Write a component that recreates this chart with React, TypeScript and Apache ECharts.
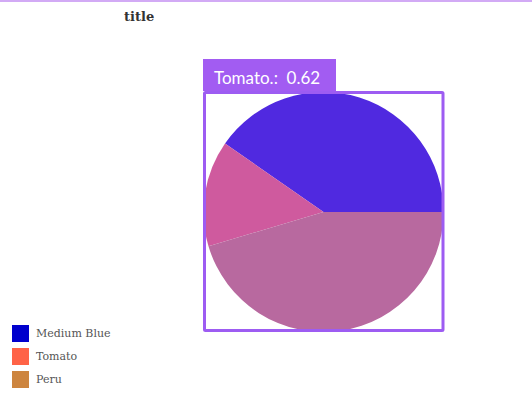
import React, { useEffect, useRef } from "react";
import * as echarts from "echarts";

const categories = ["Medium Blue", "Tomato", "Peru"];
const values = [1.75, 0.62, 1.97];
const legendColors = ["#0000CD", "#FF6347", "#CD853F"];
const sliceColors = ["#5029E0", "#CF5A9E", "#B8699F"];
const highlightLabel = "Tomato.:  0.62";
const titleText = "title";

export default function App() {
  const ref = useRef<HTMLDivElement>(null);
  useEffect(() => {
    document.body.style.margin = "0";
    const chart = echarts.init(ref.current!, null, { renderer: "svg" });
    chart.setOption({
      animation: false,
      backgroundColor: "#ffffff",
      title: {
        text: titleText,
        left: 119,
        top: 5,
        textStyle: { fontFamily: "DejaVu Serif", fontWeight: "bold", fontSize: 13, color: "#333" },
      },
      legend: {
        orient: "vertical",
        left: 7,
        top: 320,
        itemWidth: 17,
        itemHeight: 17,
        itemGap: 6,
        icon: "rect",
        textStyle: { fontFamily: "DejaVu Serif", fontSize: 11, color: "#555", padding: [0, 0, 0, 2] },
        data: categories.map((c, i) => ({ name: c, itemStyle: { color: legendColors[i] } })),
      },
      graphic: [
        { type: "rect", left: 0, top: 0, shape: { width: 532, height: 2 }, style: { fill: "#D2AAF5" } },
        {
          type: "rect",
          shape: { x: 204.5, y: 92.5, width: 238.5, height: 238, r: 1 },
          style: { fill: "none", stroke: "#9D5CF2", lineWidth: 3 },
          z: 10,
        },
        {
          type: "rect",
          shape: { x: 203, y: 59, width: 133, height: 32 },
          style: { fill: "#A25CF2" },
          z: 10,
        },
        {
          type: "text",
          x: 214,
          y: 77,
          style: {
            text: highlightLabel,
            fill: "#ffffff",
            font: "17px Lato",
            verticalAlign: "middle",
          },
          z: 11,
        },
      ],
      series: [
        {
          type: "pie",
          center: [323.5, 212],
          radius: [0, 120],
          startAngle: 0,
          clockwise: false,
          label: { show: false },
          labelLine: { show: false },
          emphasis: { disabled: true },
          data: categories.map((c, i) => ({ name: c, value: values[i], itemStyle: { color: sliceColors[i] } })),
        },
      ],
    });
    return () => chart.dispose();
  }, []);
  return <div ref={ref} style={{ width: 532, height: 400 }} />;
}
